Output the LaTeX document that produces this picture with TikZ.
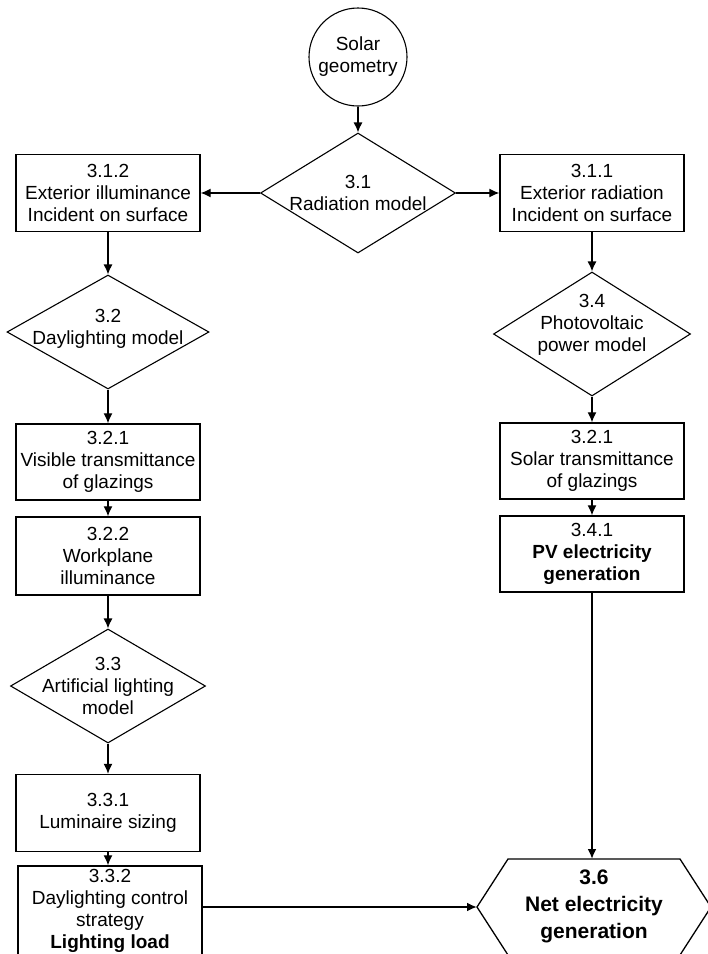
\documentclass[tikz,border=0pt]{standalone}
\usepackage{fontspec}
\setmainfont{Liberation Sans}
\usetikzlibrary{shapes.geometric,arrows.meta}
\tikzset{
  box/.style={draw,line width=1.4pt,minimum width=184pt,minimum height=77pt,align=center,inner sep=0pt},
  dia/.style={draw,diamond,line width=1.1pt,inner sep=0pt},
  txt/.style={align=center,inner sep=0pt},
  link/.style={line width=1.3pt,-{Latex[length=10pt,width=9pt]}},
  heavy/.style={line width=2pt,-{Latex[length=10pt,width=9pt]}}
}
\begin{document}
\begin{tikzpicture}[x=1pt,y=-1pt,font=\fontsize{19}{22}\selectfont]
\useasboundingbox (0,0) rectangle (708,954);

\node[draw,circle,line width=1.1pt,minimum size=98pt,inner sep=0pt,align=center] (sun) at (358,57) {Solar\\geometry};

\node[dia,minimum width=195pt,minimum height=120pt] (rad) at (358,193) {};
\node[txt] (radt) at (rad) {3.1\\Radiation model};

\node[box] (exil) at (108,193) {3.1.2\\Exterior illuminance\\Incident on surface};
\node[box] (exrad) at (592,193) {3.1.1\\Exterior radiation\\Incident on surface};

\node[dia,minimum width=202pt,minimum height=114pt] (day) at (108,332) {};
\node[txt] (dayt) at (108,329) {3.2\\Daylighting model};

\node[box,minimum height=76pt] (vis) at (108,462) {3.2.1\\Visible transmittance\\of glazings};
\node[box,minimum height=78pt] (work) at (108,556) {3.2.2\\Workplane\\illuminance};

\node[dia,minimum width=195pt,minimum height=114pt] (art) at (108,686) {};
\node[txt] (artt) at (108,686) {3.3\\Artificial lighting\\model};

\node[box] (lum) at (108,813) {3.3.1\\Luminaire sizing};
\node[box,minimum height=90pt] (ctrl) at (110,911) {3.3.2\\Daylighting control\\strategy\\\textbf{Lighting load}};

\node[dia,minimum width=197pt,minimum height=124pt] (pv) at (592,334) {};
\node[txt] (pvt) at (592,325) {3.4\\Photovoltaic\\power model};

\node[box,minimum height=76pt] (solar) at (592,461) {3.2.1\\Solar transmittance\\of glazings};
\node[box,minimum height=76pt] (pvgen) at (592,554) {3.4.1\\\textbf{PV electricity}\\\textbf{generation}};

\draw[line width=1.3pt] (477,907) coordinate (hexW) -- (508,859) -- (680,859) -- (711,907) -- (680,955) -- (508,955) -- cycle;
\coordinate (hexN) at (592,859);
\node[txt,font=\fontsize{21}{27}\selectfont\bfseries] (net) at (594,906) {3.6\\Net electricity\\generation};

\draw[link] (sun) -- (rad);
\draw[link] (rad.west) -- (exil.east);
\draw[link] (rad.east) -- (exrad.west);

\draw[link] (exil) -- (day);
\draw[link] (day) -- (vis);
\draw[link] (vis) -- (work);
\draw[link] (work) -- (art);
\draw[link] (art) -- (lum);
\draw[link] (lum) -- (ctrl.north -| lum);

\draw[link] (exrad) -- (pv);
\draw[link] (pv) -- (solar);
\draw[link] (solar) -- (pvgen);
\draw[heavy] (pvgen) -- (hexN);
\draw[heavy] (ctrl.east |- hexW) -- (hexW);
\end{tikzpicture}
\end{document}
